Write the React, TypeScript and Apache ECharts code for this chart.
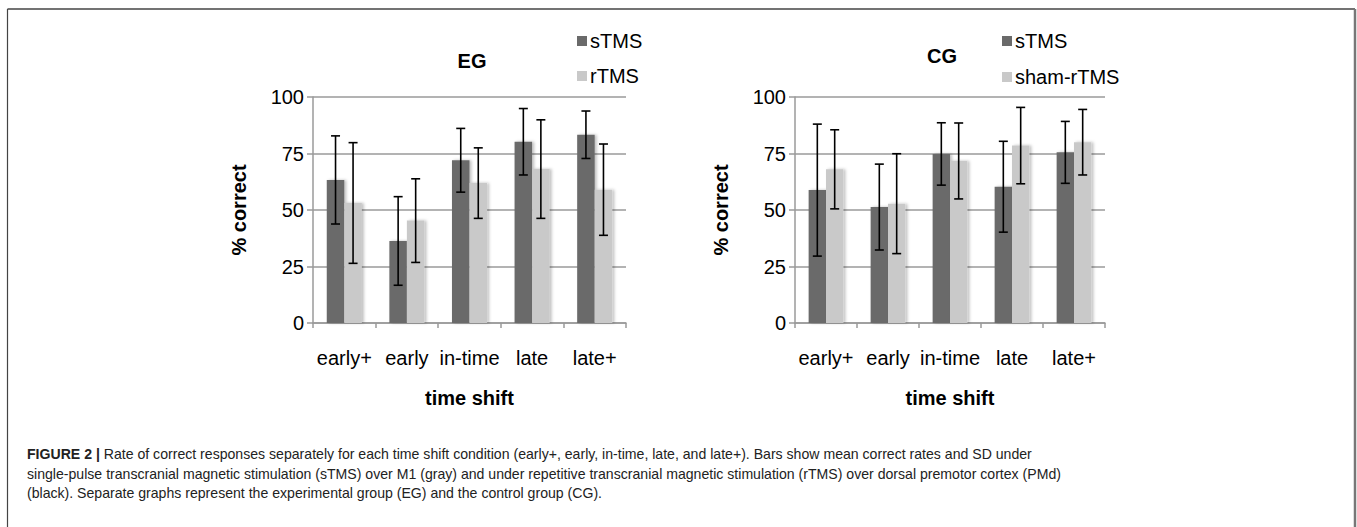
import React, { useEffect, useRef } from "react";
import * as echarts from "echarts";

const categories = ["early+", "early", "in-time", "late", "late+"];
const egSTMSMean = [63.3, 36.3, 72.0, 80.2, 83.3];
const egSTMSSD = [19.5, 19.6, 14.1, 14.7, 10.5];
const egRTMSMean = [53.1, 45.3, 61.9, 68.1, 59.0];
const egRTMSSD = [26.7, 18.5, 15.6, 21.8, 20.2];
const cgSTMSMean = [58.8, 51.3, 74.8, 60.3, 75.5];
const cgSTMSSD = [29.2, 19.0, 13.8, 20.1, 13.7];
const cgShamMean = [68.0, 52.8, 71.7, 78.5, 80.0];
const cgShamSD = [17.5, 22.1, 16.8, 16.9, 14.5];
const yMin = 0;
const yMax = 100;
const yStep = 25;

const captionLines = [
  "Rate of correct responses separately for each time shift condition (early+, early, in-time, late, and late+). Bars show mean correct rates and SD under",
  "single-pulse transcranial magnetic stimulation (sTMS) over M1 (gray) and under repetitive transcranial magnetic stimulation (rTMS) over dorsal premotor cortex (PMd)",
  "(black). Separate graphs represent the experimental group (EG) and the control group (CG).",
];

const FONT = "'Liberation Sans', Arial, sans-serif";
const CAP_FONT = "'Liberation Sans Narrow', 'Arial Narrow', 'Liberation Sans', sans-serif";
const DARK = "#6a6a6a";
const LIGHT = "#c9c9c9";
const GRID = "#9a9a9a";
const CAT_GAP = 0.44;
const FS = 20;

function errData(mean: number[], sd: number[], side: number) {
  return mean.map((m, i) => [i, m - sd[i], m + sd[i], side]);
}

function renderErr(params: any, api: any) {
  const i = api.value(0);
  const lo = api.value(1);
  const hi = api.value(2);
  const side = api.value(3);
  const band = api.size([1, 0])[0];
  const barW = (band * (1 - CAT_GAP)) / 2;
  const pLo = api.coord([i, lo]);
  const pHi = api.coord([i, hi]);
  const x = pLo[0] + (side * barW) / 2;
  const cap = 4.5;
  const st = { stroke: "#000", lineWidth: 1.6 };
  return {
    type: "group",
    children: [
      { type: "line", shape: { x1: x, y1: pLo[1], x2: x, y2: pHi[1] }, style: st },
      { type: "line", shape: { x1: x - cap, y1: pHi[1], x2: x + cap, y2: pHi[1] }, style: st },
      { type: "line", shape: { x1: x - cap, y1: pLo[1], x2: x + cap, y2: pLo[1] }, style: st },
    ],
  };
}

function xAxisCfg(gridIndex: number) {
  return {
    type: "category",
    gridIndex,
    data: categories,
    name: "time shift",
    nameLocation: "middle",
    nameGap: 65,
    nameTextStyle: { fontFamily: FONT, fontSize: FS, fontWeight: "bold", color: "#000" },
    axisLine: { show: true, lineStyle: { color: GRID, width: 1.5 } },
    axisTick: { show: true, length: 5, lineStyle: { color: GRID, width: 1.5 } },
    axisLabel: { interval: 0, fontFamily: FONT, fontSize: FS, color: "#000", margin: 25 },
  };
}

function yAxisCfg(gridIndex: number) {
  return {
    type: "value",
    gridIndex,
    min: yMin,
    max: yMax,
    interval: yStep,
    name: "% correct",
    nameLocation: "middle",
    nameRotate: 90,
    nameGap: 64,
    nameTextStyle: { fontFamily: FONT, fontSize: FS, fontWeight: "bold", color: "#000" },
    axisLine: { show: true, lineStyle: { color: GRID, width: 1.5 } },
    axisTick: { show: true, length: 6, lineStyle: { color: GRID, width: 1.5 } },
    axisLabel: { fontFamily: FONT, fontSize: FS, color: "#000", margin: 9 },
    splitLine: { show: true, lineStyle: { color: GRID, width: 1.5 } },
  };
}

function barSeries(name: string, data: number[], color: string, idx: number) {
  return {
    type: "bar",
    name,
    xAxisIndex: idx,
    yAxisIndex: idx,
    data,
    barGap: "0%",
    barCategoryGap: CAT_GAP * 100 + "%",
    itemStyle: {
      color,
      shadowColor: "rgba(0,0,0,0.25)",
      shadowBlur: 3,
      shadowOffsetX: 2,
      shadowOffsetY: 0,
    },
  };
}

function errSeries(name: string, mean: number[], sd: number[], side: number, idx: number) {
  return {
    type: "custom",
    name,
    xAxisIndex: idx,
    yAxisIndex: idx,
    z: 10,
    renderItem: renderErr,
    encode: { x: 0, y: [1, 2] },
    data: errData(mean, sd, side),
  };
}

export default function App() {
  const ref = useRef<HTMLDivElement>(null);
  useEffect(() => {
    if (!ref.current) return;
    const chart = echarts.init(ref.current, null, { renderer: "svg" });
    const legendCommon = {
      orient: "vertical",
      icon: "rect",
      itemWidth: 10,
      itemHeight: 10,
      itemGap: 15,
      padding: 0,
      textStyle: { fontFamily: FONT, fontSize: FS, color: "#000", padding: [0, 0, 0, -2] },
      selectedMode: false,
    };
    chart.setOption({
      animation: false,
      backgroundColor: "#fff",
      title: [
        {
          text: "EG",
          left: 472,
          top: 51,
          padding: 0,
          textAlign: "center",
          textStyle: { fontFamily: FONT, fontSize: FS, fontWeight: "bold", color: "#000" },
        },
        {
          text: "CG",
          left: 942,
          top: 46,
          padding: 0,
          textAlign: "center",
          textStyle: { fontFamily: FONT, fontSize: FS, fontWeight: "bold", color: "#000" },
        },
      ],
      legend: [
        { ...legendCommon, left: 577, top: 31, data: ["sTMS", "rTMS"] },
        { ...legendCommon, left: 1002, top: 31, itemGap: 16, data: ["sTMS", "sham-rTMS"] },
      ],
      grid: [
        { left: 313, top: 97, width: 313, height: 226 },
        { left: 795, top: 97, width: 310, height: 226 },
      ],
      xAxis: [xAxisCfg(0), xAxisCfg(1)],
      yAxis: [yAxisCfg(0), yAxisCfg(1)],
      series: [
        barSeries("sTMS", egSTMSMean, DARK, 0),
        barSeries("rTMS", egRTMSMean, LIGHT, 0),
        barSeries("sTMS", cgSTMSMean, DARK, 1),
        barSeries("sham-rTMS", cgShamMean, LIGHT, 1),
        errSeries("sTMS SD", egSTMSMean, egSTMSSD, -1, 0),
        errSeries("rTMS SD", egRTMSMean, egRTMSSD, 1, 0),
        errSeries("sTMS SD ", cgSTMSMean, cgSTMSSD, -1, 1),
        errSeries("sham-rTMS SD", cgShamMean, cgShamSD, 1, 1),
      ],
      graphic: [
        { type: "line", shape: { x1: 7.5, y1: 9, x2: 1355, y2: 9 }, style: { stroke: "#444", lineWidth: 1.5 } },
        { type: "line", shape: { x1: 7.5, y1: 9, x2: 7.5, y2: 530 }, style: { stroke: "#444", lineWidth: 1.2 } },
        { type: "line", shape: { x1: 1355, y1: 9, x2: 1355, y2: 530 }, style: { stroke: "#777", lineWidth: 2.5 } },
        ...captionLines.map((t, k) => ({
          type: "text",
          x: 27,
          y: 454 + k * 19.5,
          style: {
            text: k === 0 ? "{b|FIGURE 2 |} " + t : t,
            fontFamily: CAP_FONT,
            fontSize: 14.1,
            fill: "#222",
            verticalAlign: "middle",
            rich: {
              b: { fontFamily: CAP_FONT, fontSize: 14.1, fontWeight: "bold", fill: "#222" },
            },
          },
        })),
      ],
    });
    return () => chart.dispose();
  }, []);
  return (
    <div
      ref={ref}
      style={{ position: "absolute", left: 0, top: 0, width: 1357, height: 527, background: "#fff" }}
    />
  );
}
